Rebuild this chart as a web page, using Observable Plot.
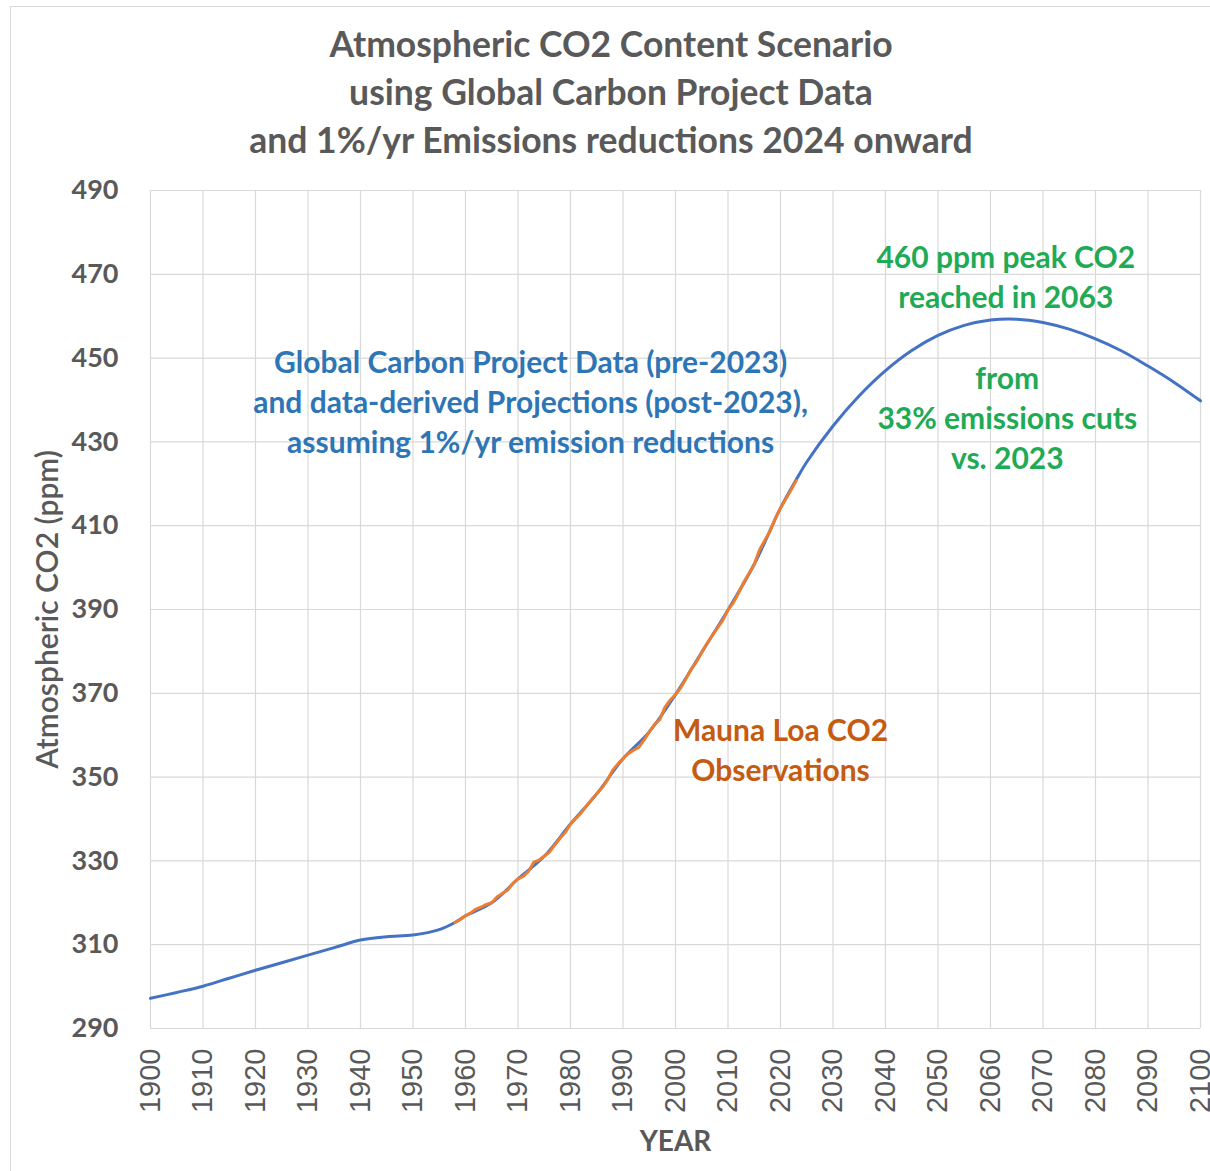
<!DOCTYPE html>
<html>
<head>
<meta charset="utf-8">
<script src="https://cdn.jsdelivr.net/npm/d3@7"></script>
<script src="https://cdn.jsdelivr.net/npm/@observablehq/plot@0.6"></script>
<style>
  body { margin: 0; background: #fff; font-family: Lato, "Open Sans", sans-serif; }
  #wrap { position: relative; width: 1210px; height: 1171px; overflow: hidden; }
  #frame { position: absolute; left: 10px; top: 6px; width: 1230px; height: 1200px; border: 1px solid #d9d9d9; box-sizing: border-box; pointer-events: none; }
  #title { padding-top: 20px; padding-left: 12px; height: 144px; text-align: center; font-weight: 700; font-size: 35.5px; line-height: 48px; color: #595959; }
  #chart svg { display: block; }
</style>
</head>
<body>
<div id="wrap">
  <div id="frame"></div>
  <div id="title">Atmospheric CO2 Content Scenario<br>using Global Carbon Project Data<br>and 1%/yr Emissions reductions 2024 onward</div>
  <div id="chart"></div>
</div>
<script>
// Global Carbon Project data + projection (blue)
const gcpYears = [1900,1905,1910,1915,1920,1925,1930,1935,1940,1945,1950,1955,1958,1960,1965,1970,1975,1980,1985,1990,1995,2000,2005,2010,2015,2020,2023,2025,2030,2035,2040,2045,2050,2055,2060,2065,2070,2075,2080,2085,2090,2095,2100];
const gcpCO2   = [297.2,298.6,300.1,302.0,303.9,305.7,307.5,309.3,311.1,311.9,312.3,313.6,315.3,316.9,320.0,325.7,331.1,338.8,346.0,354.4,360.8,369.7,379.8,389.9,400.8,414.2,421.0,425.2,433.8,441.0,447.0,451.8,455.4,457.8,459.1,459.3,458.5,456.9,454.6,451.7,448.1,444.2,439.8];

// Mauna Loa observations (orange)
const mloYears = [1958,1959,1960,1961,1962,1963,1964,1965,1966,1967,1968,1969,1970,1971,1972,1973,1974,1975,1976,1977,1978,1979,1980,1981,1982,1983,1984,1985,1986,1987,1988,1989,1990,1991,1992,1993,1994,1995,1996,1997,1998,1999,2000,2001,2002,2003,2004,2005,2006,2007,2008,2009,2010,2011,2012,2013,2014,2015,2016,2017,2018,2019,2020,2021,2022,2023];
const mloCO2   = [315.3,316.0,316.9,317.6,318.5,319.0,319.6,320.0,321.4,322.2,323.0,324.6,325.7,326.3,327.5,329.7,330.2,331.1,332.1,333.8,335.4,336.8,338.8,340.1,341.4,343.0,344.6,346.0,347.4,349.2,351.6,353.1,354.4,355.6,356.4,357.1,358.8,360.8,362.6,363.7,366.7,368.4,369.7,371.3,373.5,375.8,377.5,379.8,381.9,383.8,385.6,387.4,389.9,391.6,393.9,396.5,398.6,400.8,404.2,406.5,408.7,411.7,414.2,416.4,418.5,420.8];

// Axis ticks
const xTicks = [1900,1910,1920,1930,1940,1950,1960,1970,1980,1990,2000,2010,2020,2030,2040,2050,2060,2070,2080,2090,2100];
const yTicks = [290,310,330,350,370,390,410,430,450,470,490];

// Annotations
const noteText  = [
  "Global Carbon Project Data (pre-2023)\nand data-derived Projections (post-2023),\nassuming 1%/yr emission reductions",
  "460 ppm peak CO2\nreached in 2063",
  "from\n33% emissions cuts\nvs. 2023",
  "Mauna Loa CO2\nObservations"
];
const noteYear  = [1972.4, 2062.9, 2063.2, 2020.0];
const noteCO2   = [439.9, 469.7, 436.1, 356.8];
const noteColor = ["#2E75B6", "#1FAA55", "#1FAA55", "#C55A11"];

const gcp = gcpYears.map((x, i) => ({x, y: gcpCO2[i]}));
const mlo = mloYears.map((x, i) => ({x, y: mloCO2[i]}));
const notes = noteText.map((t, i) => ({t, x: noteYear[i], y: noteCO2[i], c: noteColor[i]}));

const gray = "#595959";
const chart = Plot.plot({
  width: 1210,
  height: 1007,
  marginTop: 26,
  marginLeft: 150,
  marginRight: 10,
  marginBottom: 143,
  style: {fontFamily: "Lato, 'Open Sans', sans-serif", background: "white"},
  x: {domain: [1900, 2100]},
  y: {domain: [290, 490]},
  marks: [
    Plot.gridX(xTicks, {stroke: "#d9d9d9", strokeOpacity: 1, strokeWidth: 1.2}),
    Plot.gridY(yTicks, {stroke: "#d9d9d9", strokeOpacity: 1, strokeWidth: 1.2}),
    Plot.axisX(xTicks, {tickSize: 0, tickPadding: 20, tickRotate: -90, fontSize: 29, fill: gray, tickFormat: d => String(d), label: null, fontFamily: "'Liberation Sans', Arial, sans-serif"}),
    Plot.axisY(yTicks, {tickSize: 0, tickPadding: 32, fontSize: 27, fontWeight: "bold", fill: gray, label: null}),
    Plot.line(gcp, {x: "x", y: "y", stroke: "#4472C4", strokeWidth: 3, curve: "catmull-rom"}),
    Plot.line(mlo, {x: "x", y: "y", stroke: "#ED7D31", strokeWidth: 3, curve: "linear"}),
    Plot.text(notes, {x: "x", y: "y", text: "t", fill: "c", fontSize: 30, fontWeight: "bold", lineHeight: 1.33, textAnchor: "middle"}),
    Plot.text(["YEAR"], {frameAnchor: "bottom", dy: 122, fontSize: 28, fontWeight: "bold", fill: gray}),
    Plot.text(["Atmospheric CO2 (ppm)"], {frameAnchor: "left", dx: -102, rotate: -90, textAnchor: "middle", fontSize: 30, fontWeight: "600", fill: gray})
  ]
});
document.getElementById("chart").appendChild(chart);
</script>
</body>
</html>
